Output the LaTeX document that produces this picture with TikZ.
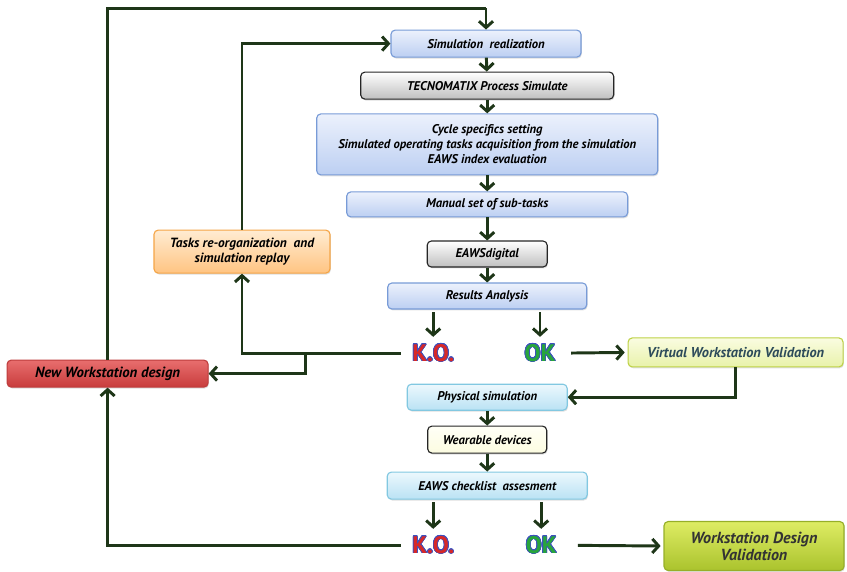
\documentclass[tikz,border=0pt]{standalone}
\usepackage{fontspec}
\setmainfont{PT Sans}
\usepackage[copies]{contour}
\usetikzlibrary{arrows.meta,shadows}

\definecolor{flowgreen}{RGB}{30,54,24}
\definecolor{blueedge}{RGB}{120,155,215}
\definecolor{bluetop}{RGB}{236,241,252}
\definecolor{bluebot}{RGB}{188,207,242}
\definecolor{cyanedge}{RGB}{130,200,225}
\definecolor{cyantop}{RGB}{236,248,253}
\definecolor{cyanbot}{RGB}{186,226,244}
\definecolor{oredge}{RGB}{245,165,70}
\definecolor{ortop}{RGB}{255,236,210}
\definecolor{orbot}{RGB}{255,196,130}
\definecolor{rededge}{RGB}{190,60,60}
\definecolor{redtop}{RGB}{232,110,110}
\definecolor{redbot}{RGB}{200,60,60}
\definecolor{limeedge}{RGB}{190,210,70}
\definecolor{limetop}{RGB}{250,252,225}
\definecolor{limebot}{RGB}{232,242,170}
\definecolor{oliveedge}{RGB}{150,175,40}
\definecolor{olivetop}{RGB}{222,236,100}
\definecolor{olivebot}{RGB}{170,195,45}
\definecolor{slatetext}{RGB}{45,75,90}
\definecolor{kored}{RGB}{215,40,40}
\definecolor{okgreen}{RGB}{40,165,60}
\definecolor{outblue}{RGB}{60,80,190}

\tikzset{
  flow/.style={line width=2.1pt, draw=flowgreen, -{Straight Barb[length=4.5pt,width=10pt]}},
  link/.style={line width=2.1pt, draw=flowgreen},
  box/.style={rounded corners=3pt, align=center, inner sep=1pt, line width=0.8pt,
    font=\fontsize{9}{10.6}\selectfont\bfseries\itshape,
    drop shadow={shadow xshift=0.6pt, shadow yshift=-1pt, opacity=0.25}},
  bluebox/.style={box, draw=blueedge, top color=bluetop, bottom color=bluebot},
  cyanbox/.style={box, draw=cyanedge, top color=cyantop, bottom color=cyanbot},
  graybox/.style={box, draw=black!85, top color=white, bottom color=black!25},
  creambox/.style={box, draw=black!85, top color=white!60!yellow!8, bottom color=black!10!yellow!12},
  orangebox/.style={box, draw=oredge, top color=ortop, bottom color=orbot,
    font=\fontsize{9.5}{10.6}\selectfont\bfseries\itshape},
  redbox/.style={box, draw=rededge, top color=redtop, bottom color=redbot,
    font=\fontsize{10.5}{11}\selectfont\bfseries\itshape},
  limebox/.style={box, draw=limeedge, top color=limetop, bottom color=limebot,
    text=slatetext, font=\fontsize{10.2}{10.6}\selectfont\bfseries\itshape},
  olivebox/.style={box, draw=oliveedge, top color=olivetop, bottom color=olivebot,
    text=black!80, font=\fontsize{11.4}{12.2}\selectfont\bfseries\itshape},
  verdict/.style={inner sep=0pt, font=\fontsize{17}{17}\selectfont\bfseries}
}
\contourlength{0.5pt}
\contournumber{20}

\begin{document}
\begin{tikzpicture}
  \useasboundingbox (0,0) rectangle (21.175,-14.275);

  % Virtual chain
  \node[bluebox, minimum width=4.75cm, minimum height=0.675cm] (SimReal) at (12.15,-1.09) {Simulation\ \ realization};
  \node[graybox, minimum width=6.325cm, minimum height=0.675cm] (Tecno) at (12.18,-2.14) {TECNOMATIX Process Simulate};
  \node[bluebox, minimum width=8.525cm, minimum height=1.525cm] (Cycle) at (12.18,-3.61)
    {Cycle specifics setting\\Simulated operating tasks acquisition from the simulation\\EAWS index evaluation};
  \node[bluebox, minimum width=7.025cm, minimum height=0.625cm] (Manual) at (12.18,-5.11) {Manual set of sub-tasks};
  \node[graybox, minimum width=3cm, minimum height=0.65cm] (EAWSdig) at (12.18,-6.35) {EAWSdigital};
  \node[bluebox, minimum width=4.975cm, minimum height=0.65cm] (Results) at (12.18,-7.40) {Results Analysis};
  \node[verdict] (KOa) at (10.83,-8.83) {\contour{outblue}{\textcolor{kored}{K.O.}}};
  \node[verdict] (OKa) at (13.50,-8.83) {\contour{outblue}{\textcolor{okgreen}{OK}}};
  \node[limebox, minimum width=5.375cm, minimum height=0.725cm] (Virtual) at (18.39,-8.81) {Virtual\ Workstation\ Validation};

  % Physical chain
  \node[cyanbox, minimum width=4cm, minimum height=0.65cm] (Physical) at (12.18,-9.93) {Physical simulation};
  \node[creambox, minimum width=2.975cm, minimum height=0.675cm] (Wearable) at (12.18,-10.99) {Wearable devices};
  \node[cyanbox, minimum width=5cm, minimum height=0.675cm] (Checklist) at (12.18,-12.14) {EAWS checklist\ \ assesment};
  \node[verdict] (KOb) at (10.83,-13.63) {\contour{outblue}{\textcolor{kored}{K.O.}}};
  \node[verdict] (OKb) at (13.53,-13.63) {\contour{outblue}{\textcolor{okgreen}{OK}}};
  \node[olivebox, minimum width=4.5cm, minimum height=1.225cm] (WDV) at (18.85,-13.65) {Workstation Design\\Validation};

  % Feedback boxes
  \node[redbox, minimum width=5.025cm, minimum height=0.675cm] (NewWS) at (2.69,-9.34) {New\ Workstation\ design};
  \node[orangebox, minimum width=4.4cm, minimum height=1.075cm] (Tasks) at (6.05,-6.29) {Tasks re-organization\ \ and\\simulation\ replay};

  \coordinate (top) at (12.15,-0.21);
  \coordinate (split) at (7.63,-8.83);

  % Draw arrows
  \draw[flow] (SimReal) -- (Tecno);
  \draw[flow] (Tecno) -- (Cycle);
  \draw[flow] (Cycle) -- (Manual);
  \draw[flow] (Manual) -- (EAWSdig);
  \draw[flow] (EAWSdig) -- (Results);
  \draw[flow, shorten <=2pt, shorten >=5pt] (Results.south -| KOa) -- (KOa.north);
  \draw[flow, shorten <=2pt, shorten >=5pt] (Results.south -| OKa) -- (OKa.north);
  \draw[flow, shorten <=11pt, shorten >=2pt] (OKa.east) -- (Virtual.west);
  \draw[flow] (Virtual.south) |- (Physical.east);
  \draw[flow] (Physical) -- (Wearable);
  \draw[flow] (Wearable) -- (Checklist);
  \draw[flow, shorten <=2pt, shorten >=5pt] (Checklist.south -| KOb) -- (KOb.north);
  \draw[flow, shorten <=2pt, shorten >=5pt] (Checklist.south -| OKb) -- (OKb.north);
  \draw[flow, shorten <=15pt, shorten >=2pt] (OKb.east) -- (WDV.west);

  % Loops back
  \draw[flow, shorten <=8pt] (KOa.west) -| (Tasks.south);
  \draw[flow] (split) |- (NewWS.east);
  \draw[flow] (Tasks.north) |- (SimReal.west);
  \draw[flow, shorten <=8pt] (KOb.west) -| (NewWS.south);
  \draw[link] (NewWS.north) |- (top);
  \draw[flow] (top) -- (SimReal.north);

\end{tikzpicture}
\end{document}
